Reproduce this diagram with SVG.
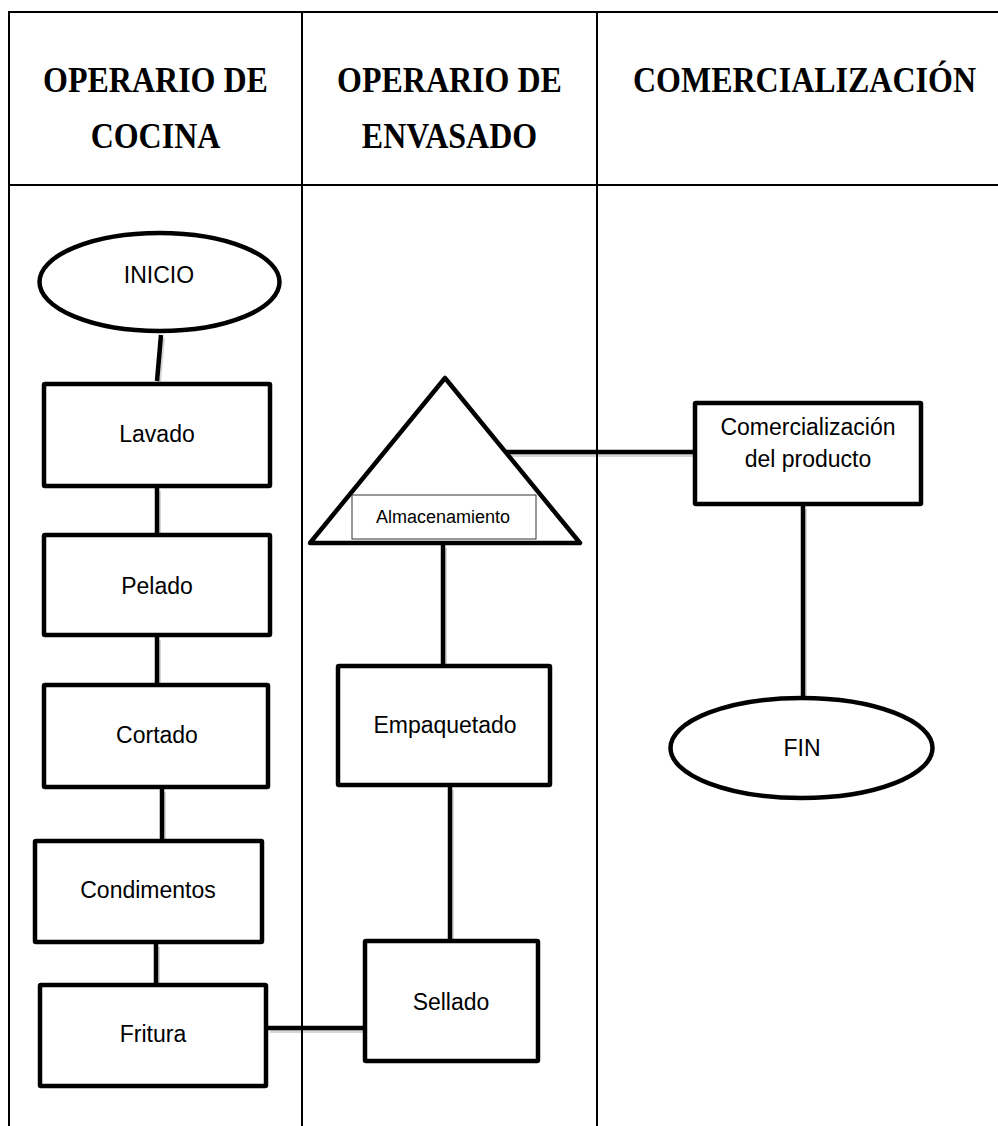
<svg xmlns="http://www.w3.org/2000/svg" width="998" height="1126" viewBox="0 0 998 1126">
<style>
.grid{stroke:#000;stroke-width:2;fill:none}
.hdr{font-family:"Liberation Serif","Times New Roman",serif;font-weight:bold;font-size:32px;fill:#000;text-anchor:middle}
.box{fill:#fff;stroke:#000;stroke-width:4.5;stroke-linejoin:round}
.lbl{font-family:"Liberation Sans",Arial,sans-serif;font-size:23px;fill:#000;text-anchor:middle}
.small{font-family:"Liberation Sans",Arial,sans-serif;font-size:18px;fill:#000;text-anchor:middle}
.con{stroke:#000;stroke-width:4.5;fill:none}
.shd{stroke:#000;stroke-opacity:0.16;stroke-width:4;fill:none}
</style>
<rect width="998" height="1126" fill="#fff"/>
<g id="table">
<line class="grid" x1="9" y1="12" x2="998" y2="12"/>
<line class="grid" x1="9" y1="185" x2="998" y2="185"/>
<line class="grid" x1="9" y1="11" x2="9" y2="1126"/>
<line class="grid" x1="302" y1="11" x2="302" y2="1126"/>
<line class="grid" x1="597" y1="11" x2="597" y2="1126"/>
<text class="hdr" transform="translate(155.5,92) scale(1,1.1)">OPERARIO DE</text>
<text class="hdr" transform="translate(155.5,148) scale(1,1.1)">COCINA</text>
<text class="hdr" transform="translate(449.5,92) scale(1,1.1)">OPERARIO DE</text>
<text class="hdr" transform="translate(449.5,148) scale(1,1.1)">ENVASADO</text>
<text class="hdr" transform="translate(804.5,92) scale(1,1.1)">COMERCIALIZACIÓN</text>
</g>
<g id="connectors">
<g transform="translate(2,3)">
<line class="shd" x1="161" y1="335" x2="157" y2="381"/>
<line class="shd" x1="157" y1="488" x2="157" y2="533"/>
<line class="shd" x1="157" y1="637" x2="157" y2="683"/>
<line class="shd" x1="162" y1="789" x2="162" y2="839"/>
<line class="shd" x1="156" y1="944" x2="156" y2="983"/>
<line class="shd" x1="268" y1="1028" x2="363" y2="1028"/>
<line class="shd" x1="450" y1="787" x2="450" y2="939"/>
<line class="shd" x1="443" y1="545" x2="443" y2="664"/>
<line class="shd" x1="506" y1="452" x2="693" y2="452"/>
<line class="shd" x1="803" y1="506" x2="803" y2="696"/>
</g>
<line class="con" x1="161" y1="335" x2="157" y2="381"/>
<line class="con" x1="157" y1="488" x2="157" y2="533"/>
<line class="con" x1="157" y1="637" x2="157" y2="683"/>
<line class="con" x1="162" y1="789" x2="162" y2="839"/>
<line class="con" x1="156" y1="944" x2="156" y2="983"/>
<line class="con" x1="268" y1="1028" x2="363" y2="1028"/>
<line class="con" x1="450" y1="787" x2="450" y2="939"/>
<line class="con" x1="443" y1="545" x2="443" y2="664"/>
<line class="con" x1="506" y1="452" x2="693" y2="452"/>
<line class="con" x1="803" y1="506" x2="803" y2="696"/>
</g>
<g id="inicio">
<ellipse class="box" cx="159.5" cy="282" rx="120" ry="49"/>
<text class="lbl" x="159" y="283">INICIO</text>
</g>
<g id="lavado">
<rect class="box" x="44" y="384" width="226" height="102" rx="1"/>
<text class="lbl" x="157" y="442">Lavado</text>
</g>
<g id="pelado">
<rect class="box" x="44" y="535" width="226" height="100" rx="1"/>
<text class="lbl" x="157" y="594">Pelado</text>
</g>
<g id="cortado">
<rect class="box" x="44" y="685" width="224" height="102" rx="1"/>
<text class="lbl" x="157" y="743">Cortado</text>
</g>
<g id="condimentos">
<rect class="box" x="35" y="841" width="227" height="101" rx="1"/>
<text class="lbl" x="148" y="898">Condimentos</text>
</g>
<g id="fritura">
<rect class="box" x="40" y="985" width="226" height="101" rx="1"/>
<text class="lbl" x="153" y="1042">Fritura</text>
</g>
<g id="almacenamiento">
<polygon class="box" points="445,378 580,543 310,543"/>
<rect x="352" y="495" width="184" height="44" fill="#fff" stroke="#333" stroke-width="1"/>
<text class="small" x="443" y="523">Almacenamiento</text>
</g>
<g id="empaquetado">
<rect class="box" x="338" y="666" width="212" height="119" rx="1"/>
<text class="lbl" x="445" y="733">Empaquetado</text>
</g>
<g id="sellado">
<rect class="box" x="365" y="941" width="173" height="120" rx="1"/>
<text class="lbl" x="451" y="1010">Sellado</text>
</g>
<g id="comercializacion">
<rect class="box" x="695" y="403" width="226" height="101" rx="1"/>
<text class="lbl" x="808" y="435">Comercialización</text>
<text class="lbl" x="808" y="467">del producto</text>
</g>
<g id="fin">
<ellipse class="box" cx="801.5" cy="748" rx="131" ry="50"/>
<text class="lbl" x="802" y="756">FIN</text>
</g>
</svg>
